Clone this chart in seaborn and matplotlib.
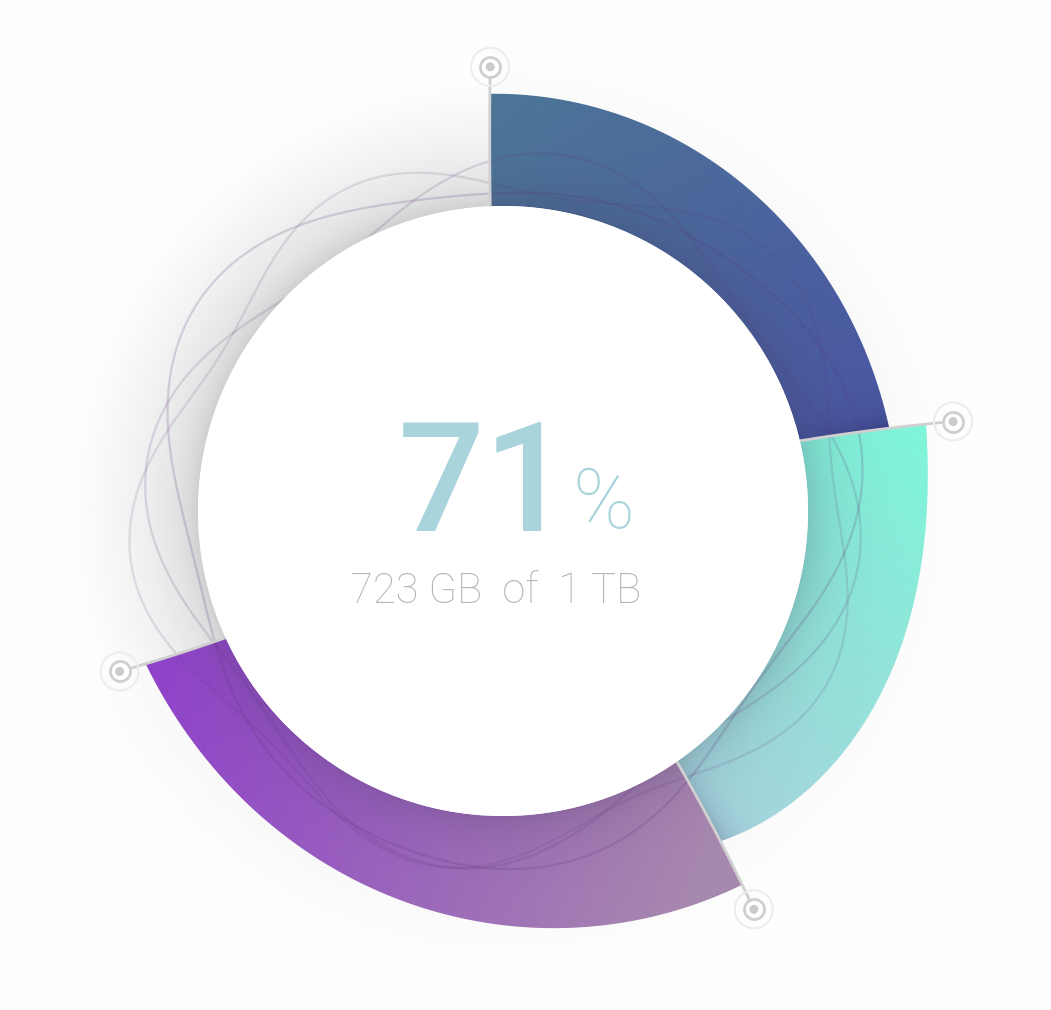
import numpy as np
import matplotlib
matplotlib.use("Agg")
import matplotlib.pyplot as plt
from matplotlib.patches import Polygon, Circle
import matplotlib.colors as mcolors
import seaborn as sns

# ---------------- data ----------------
segment_names = ["Segment A", "Segment B", "Segment C"]
segment_gb = [225, 195, 285]          # used space per segment (GB)
capacity_gb = 1024                     # 1 TB
percent_label = "71"
percent_sign = "%"
usage_label = "723 GB  of  1 TB"

# ---------------- style ----------------
seg_c0 = ["#4d7598", "#7ef6d9", "#9043cb"]
seg_c1 = ["#4a56a4", "#a9d3de", "#a88aae"]
seg_p0 = [(520, 100), (930, 430), (150, 690)]
seg_p1 = [(890, 430), (690, 830), (720, 850)]
end_shadow = [0.42, 0.26, 0.0]
outer_profiles = [
    ([0, .27, .47, .65, .81, 1], [418, 409, 409, 401, 394, 396]),
    ([0, .17, .35, .52, .68, .82, 1], [432, 424, 419.5, 421, 419, 409, 396]),
    ([0, .16, .30, .45, .66, .82, 1], [444, 427, 421, 402, 390.5, 389, 388]),
]
boundary_twist = [0.8, 2.0, 2.3, 2.5]

W, H = 1051, 1010
CX, CY = 503.0, 511.0
R_IN = 305.0
START_DEG = 92.4
TW_REF = 150.0

sns.set_theme(style="white")
plt.rcParams['font.family'] = ['Roboto', 'DejaVu Sans']

fig = plt.figure(figsize=(W / 100, H / 100), dpi=100)
ax = fig.add_axes([0, 0, 1, 1])
ax.set_xlim(0, W)
ax.set_ylim(H, 0)
ax.axis('off')
fig.patch.set_facecolor('white')

fr = np.array(segment_gb, dtype=float) / capacity_gb
bounds = START_DEG - 360 * np.concatenate([[0], np.cumsum(fr)])
ext_b = np.concatenate([bounds, [bounds[0] - 360]])
ext_t = np.array(boundary_twist + [boundary_twist[0]])


def twist_at(theta):
    return np.interp(theta, ext_b[::-1], ext_t[::-1])


def to_xy(theta, r):
    theta = np.asarray(theta, dtype=float)
    r = np.asarray(r, dtype=float)
    phi = np.radians(theta - twist_at(theta) * (r - R_IN) / TW_REF)
    return CX + r * np.cos(phi), CY - r * np.sin(phi)


def outer_r(k, u):
    us, rs = outer_profiles[k]
    coef = np.polyfit(us, rs, 3)
    return np.polyval(coef, u)


def ring_poly(t0, t1, rfun, n=300):
    u = np.linspace(0, 1, n)
    th = t0 + (t1 - t0) * u
    xi, yi = to_xy(th, np.full(n, R_IN))
    ro = rfun(u)
    xe, ye = to_xy(np.full(40, t1), np.linspace(R_IN, ro[-1], 40))
    xo, yo = to_xy(th[::-1], ro[::-1])
    xs, ys = to_xy(np.full(40, t0), np.linspace(ro[0], R_IN, 40))
    return np.column_stack([np.concatenate([xi, xe, xo, xs]),
                            np.concatenate([yi, ye, yo, ys])])


X, Y = np.meshgrid(np.arange(W) + 0.5, np.arange(H) + 0.5)
RR = np.hypot(X - CX, Y - CY)
PHI = np.degrees(np.arctan2(-(Y - CY), X - CX))

# ---------------- soft outer halo behind everything ----------------
halo = 1 - 0.02 * np.exp(-np.clip(RR - 400, 0, None) / 40)
ax.imshow(np.dstack([halo] * 3), extent=(0, W, H, 0), origin='upper', zorder=0,
          interpolation='bilinear')

# ---------------- remaining (grey) slice ----------------
g = 0.943 + 0.057 * np.clip((RR - 345) / 95, 0, 1) ** 1.1
g = np.minimum(g, halo)
g = g - 0.13 * np.exp(-np.clip(RR - R_IN, 0, None) / 26)
grey = np.dstack([g, g + 0.004, g + 0.004]).clip(0, 1)
gpoly = Polygon(ring_poly(bounds[-1], bounds[0] - 360, lambda u: np.full_like(u, 470.0)),
                closed=True, fc='none', ec='none', transform=ax.transData)
ax.add_patch(gpoly)
im = ax.imshow(grey, extent=(0, W, H, 0), origin='upper', zorder=1, interpolation='bilinear')
im.set_clip_path(gpoly)

# ---------------- coloured slices ----------------
shade = np.array(mcolors.to_rgb("#3a3150"))
for k in range(len(segment_gb)):
    c0 = np.array(mcolors.to_rgb(seg_c0[k]))
    c1 = np.array(mcolors.to_rgb(seg_c1[k]))
    p0 = np.array(seg_p0[k], float)
    p1 = np.array(seg_p1[k], float)
    d = p1 - p0
    t = np.clip(((X - p0[0]) * d[0] + (Y - p0[1]) * d[1]) / (d @ d), 0, 1)[..., None]
    rgb = c0 * (1 - t) + c1 * t
    s_in = (0.20 * np.exp(-np.clip(RR - R_IN, 0, None) / 28))[..., None]
    rgb = rgb * (1 - s_in) + shade * s_in
    if end_shadow[k] > 0:
        t1 = bounds[k + 1]
        phib = t1 - boundary_twist[k + 1] * (RR - R_IN) / TW_REF
        dd = ((PHI - phib + 180) % 360 - 180)
        dist = RR * np.radians(dd)
        s_e = end_shadow[k] * np.exp(-np.clip(dist, 0, None) / 13) * \
            (0.35 + 0.65 * np.clip((RR - R_IN) / 110, 0, 1))
        s_e = s_e[..., None]
        rgb = rgb * (1 - s_e) + np.array(mcolors.to_rgb("#1e2050")) * s_e
    poly = Polygon(ring_poly(bounds[k], bounds[k + 1], lambda u, k=k: outer_r(k, u)),
                   closed=True, fc='none', ec='none', transform=ax.transData)
    ax.add_patch(poly)
    im = ax.imshow(rgb.clip(0, 1), extent=(0, W, H, 0), origin='upper', zorder=2,
                   interpolation='bilinear')
    im.set_clip_path(poly)

# ---------------- decorative wavy threads ----------------
waves = [(338, [(24, 3, 0.4), (8, 5, 1.3)], 0.20),
         (332, [(28, 4, 2.2), (6, 2, 0.2)], 0.17),
         (345, [(22, 5, 4.1), (9, 2, 1.0)], 0.14)]
ph = np.linspace(0, 2 * np.pi, 1500)
for r0, terms, al in waves:
    rr = r0 + sum(a * np.sin(n * ph + p) for a, n, p in terms)
    ax.plot(CX + rr * np.cos(ph), CY - rr * np.sin(ph), color="#5e3878",
            alpha=al, lw=1.6, zorder=4, solid_capstyle='round')

ax.add_patch(Circle((CX, CY), R_IN, fc='white', ec='none', zorder=5))

# ---------------- dividers and markers ----------------
edge_r = [outer_r(0, 0.0),
          max(outer_r(0, 1.0), outer_r(1, 0.0)),
          max(outer_r(1, 1.0), outer_r(2, 0.0)),
          outer_r(2, 1.0)]
mx, my = [], []
for k, tb in enumerate(bounds):
    rm = edge_r[k] + 27
    rr = np.linspace(R_IN, rm, 50)
    x, y = to_xy(np.full(50, tb), rr)
    ax.plot(x, y, color="#d0d0d0", lw=2.0, zorder=6, solid_capstyle='butt')
    mx.append(x[-1])
    my.append(y[-1])

ax.scatter(mx, my, s=(38 / 1.389) ** 2, facecolors='none', edgecolors='#ededed',
           linewidths=1.5, zorder=7)
ax.scatter(mx, my, s=(20 / 1.389) ** 2, facecolors='white', edgecolors='#cfcfcf',
           linewidths=2.0, zorder=7)
sns.scatterplot(x=mx, y=my, s=(9 / 1.389) ** 2, color='#cbcbcb', edgecolor='none',
                zorder=8, ax=ax, legend=False)

# ---------------- centre labels ----------------
ax.text(398, 531, percent_label, ha='left', va='baseline', fontsize=110,
        fontweight='medium', color='#a9d4dc', zorder=10)
ax.text(572, 528, percent_sign, ha='left', va='baseline', fontsize=60,
        fontweight='light', color='#a9d4dc', zorder=10)
ax.text(496, 603, usage_label, ha='center', va='baseline', fontsize=30,
        fontweight='light', color='#b4b4b4', zorder=10)

ax.set_xlim(0, W)
ax.set_ylim(H, 0)
fig.savefig("out.png", dpi=100, facecolor='white')
